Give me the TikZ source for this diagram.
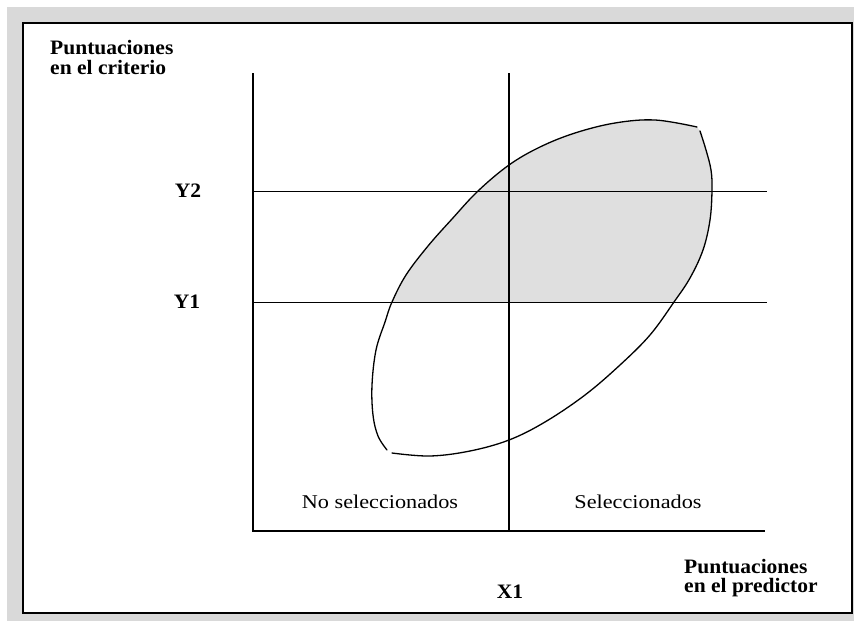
\documentclass[tikz,border=0pt]{standalone}
\usepackage{fontspec}
\setmainfont{Liberation Serif}
\newfontfamily\lblbold[FakeStretch=1.05]{Liberation Serif}
\newfontfamily\lblreg[FakeStretch=1.14]{Liberation Serif}
\definecolor{bggray}{gray}{0.85}
\definecolor{shadegray}{gray}{0.875}
\tikzset{
  boldlbl/.style={inner sep=0pt, font=\lblbold\bfseries\fontsize{20.5}{20}\selectfont},
  reglbl/.style={inner sep=0pt, font=\lblreg\fontsize{19.5}{20}\selectfont},
  axisline/.style={line width=2pt},
  thinline/.style={line width=1pt},
  curveline/.style={line width=1.3pt, line cap=round, line join=round}
}
\begin{document}
\begin{tikzpicture}[x=1pt,y=-1pt]
\useasboundingbox (0,0) rectangle (854,621);
\fill[white] (0,0) rectangle (854,621);
\fill[bggray] (7,7) rectangle (854,621);
\draw[line width=2.2pt, fill=white] (23,23) rectangle (852,613);

% coordinates
\coordinate (ytop) at (253,73);
\coordinate (orig) at (253,531);
\coordinate (xend) at (765,531);
\coordinate (x1top) at (509,73);
\coordinate (x1bot) at (509,531);
\coordinate (y2l) at (253,191);
\coordinate (y2r) at (767,191);
\coordinate (y1l) at (253,302);
\coordinate (y1r) at (767,302);

% shaded part of the oval (above Y1)
\begin{scope}
\clip (0,0) rectangle (854,302);
\fill[shadegray] plot[smooth, tension=0.6] coordinates {(387,450) (378,436) (373,415) (372,385) (376,350) (385,322) (392,302) (406,275) (428,246) (452,219) (478,191) (509,165) (540,147) (575,133) (615,123) (655,120) (697,127)}
 -- plot[smooth, tension=0.6] coordinates {(700,131) (706,150) (711,170) (712,190) (710,220) (703,250) (690,278) (674,302) (650,335) (620,365) (585,395) (545,422) (509,440) (470,451) (430,456) (392,453)} -- cycle;
\end{scope}

% lines
\draw[thinline] (y2l) -- (y2r);
\draw[thinline] (y1l) -- (y1r);
\draw[line width=1.2pt] (x1top) -- (x1bot);
\draw[axisline] (ytop) -- (orig) -- (xend);

% oval outline
\draw[curveline] plot[smooth, tension=0.6] coordinates {(387,450) (378,436) (373,415) (372,385) (376,350) (385,322) (392,302) (406,275) (428,246) (452,219) (478,191) (509,165) (540,147) (575,133) (615,123) (655,120) (697,127)};
\draw[curveline] plot[smooth, tension=0.6] coordinates {(700,131) (706,150) (711,170) (712,190) (710,220) (703,250) (690,278) (674,302) (650,335) (620,365) (585,395) (545,422) (509,440) (470,451) (430,456) (392,453)};

% labels
\node[boldlbl, anchor=base west] (crit1) at (50,54) {Puntuaciones};
\node[boldlbl, anchor=base west] (crit2) at (50,74) {en el criterio};
\node[boldlbl, anchor=base west] (pred1) at (684,573) {Puntuaciones};
\node[boldlbl, anchor=base west] (pred2) at (684,592) {en el predictor};
\node[boldlbl] (y2lab) at (188,191) {Y2};
\node[boldlbl] (y1lab) at (187,302) {Y1};
\node[boldlbl] (x1lab) at (510,592) {X1};
\node[reglbl, anchor=base] (nosel) at (380,508) {No seleccionados};
\node[reglbl, anchor=base] (sel) at (638,508) {Seleccionados};
\end{tikzpicture}
\end{document}
